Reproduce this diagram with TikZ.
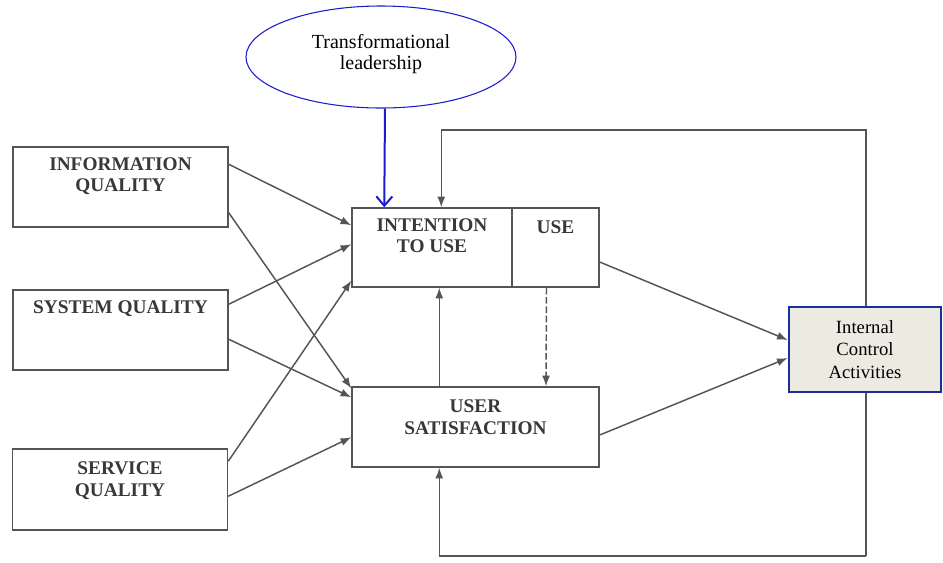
\documentclass[tikz,border=0pt]{standalone}
\usepackage{fontspec}
\setmainfont{Liberation Serif}
\usepackage{xcolor}
\usepackage{tikz}
\usetikzlibrary{shapes.geometric,calc,arrows.meta}

\definecolor{linegray}{HTML}{555555}
\definecolor{textgray}{HTML}{383838}
\definecolor{leadblue}{HTML}{1C1CCC}
\definecolor{icafill}{HTML}{EDEAE2}
\definecolor{icablue}{HTML}{1A2EA0}

\tikzset{
	box/.style={draw=linegray,line width=1.1pt,inner sep=0pt,fill=white},
	boxtext/.style={anchor=north,align=center,inner sep=0pt,yshift=-8pt,
		text=textgray,font=\bfseries\fontsize{14.5}{16}\selectfont},
	path/.style={draw=linegray,line width=1.1pt,-{Latex[length=8pt,width=6pt]}}
}

\begin{document}
\begin{tikzpicture}[x=0.75pt,y=-0.75pt]
	\useasboundingbox (0,0) rectangle (943,562);

	\node[box,minimum width=161.25pt,minimum height=60pt,
		label={[boxtext]north:{INFORMATION\\QUALITY}}] (info) at (120.5,187) {};
	\node[box,minimum width=161.25pt,minimum height=60pt,
		label={[boxtext]north:{SYSTEM QUALITY}}] (sysq) at (120.5,330) {};
	\node[box,minimum width=161.25pt,minimum height=60.75pt,
		label={[boxtext,yshift=-2pt]north:{SERVICE\\QUALITY}}] (servq) at (120,489.5) {};

	\node[box,minimum width=120pt,minimum height=59.25pt,
		label={[boxtext]north:{INTENTION\\TO USE}}] (intent) at (432,247.5) {};
	\node[box,minimum width=65.25pt,minimum height=59.25pt,
		label={[boxtext,yshift=-2pt]north:{USE}}] (use) at (555.5,247.5) {};
	\node[box,minimum width=185.25pt,minimum height=60pt,
		label={[boxtext,yshift=-2pt]north:{USER\\SATISFACTION}}] (usersat) at (475.5,427) {};

	\node[draw=leadblue,line width=0.8pt,ellipse,minimum width=202.5pt,minimum height=76.5pt,
		align=center,font=\fontsize{15}{16}\selectfont] (tl) at (381,57)
		{Transformational\\leadership\\[-8.5pt]};

%	====================================================================
	\coordinate (fbtop) at (866,130);
	\coordinate (fbbot) at (866,556);
	\draw[path] (fbbot) -- (fbtop) -| ($(intent.north west)+(90,0)$);
	\draw[path] (fbbot) -| ($(usersat.south west)+(88,0)$);
%	====================================================================

	\node[draw=icablue,line width=2pt,fill=icafill,inner sep=0pt,
		minimum width=114pt,minimum height=63.75pt,align=center,
		font=\fontsize{14}{17}\selectfont] (ica) at (865,349.5)
		{Internal\\Control\\Activities};

	\draw[path] ($(info.north east)+(0,18)$) -- ($(intent.north west)+(0,18)$);
	\draw[path] ($(info.south east)+(0,-15)$) -- ($(usersat.north west)+(0,2)$);
	\draw[path] ($(sysq.north east)+(0,15)$) -- ($(intent.north west)+(0,37)$);
	\draw[path] ($(sysq.north east)+(0,50)$) -- ($(usersat.north west)+(0,11)$);
	\draw[path] ($(servq.north east)+(0,13)$) -- ($(intent.south west)+(0,-7)$);
	\draw[path] ($(servq.north east)+(0,48)$) -- ($(usersat.north west)+(0,51)$);

	\draw[path] ($(usersat.north west)+(88,0)$) -- ($(intent.south west)+(88,0)$);
	\draw[path,dash pattern=on 5pt off 2pt] ($(use.south)+(-9,0)$)
		-- ($(usersat.north)+(70.5,0)$);

	\draw[path] ($(use.east)+(0,14.5)$) -- ($(ica.west)+(0,-9.5)$);
	\draw[path] ($(usersat.east)+(0,8)$) -- ($(ica.west)+(0,8.5)$);

	\draw[draw=leadblue,line width=1.5pt,-{Straight Barb[length=7pt,width=12pt]}]
		(tl.south) ++(4,0) -- ($(intent.north west)+(33,0)$);
\end{tikzpicture}
\end{document}
